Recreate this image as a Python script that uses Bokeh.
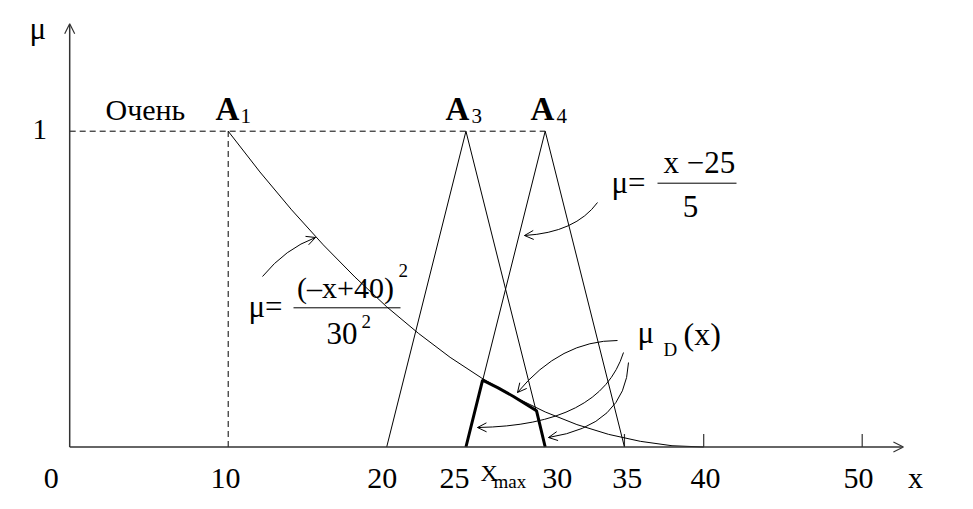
from bokeh.plotting import figure
from bokeh.models import Range1d, Arrow, OpenHead, ColumnDataSource
from bokeh.core.properties import value
from bokeh.embed import file_html
from bokeh.resources import INLINE

# ---------------- data ----------------
a1_x = [10, 12, 14, 16, 18, 20, 22, 24, 26, 28, 30, 32, 34, 36, 38, 40]
a1_mu = [1.0, 0.871, 0.751, 0.640, 0.538, 0.444, 0.360, 0.284, 0.218,
         0.160, 0.111, 0.071, 0.040, 0.018, 0.004, 0.0]
a3_x = [20, 25, 30]
a3_mu = [0, 1, 0]
a4_x = [25, 30, 35]
a4_mu = [0, 1, 0]
muD_x = [25, 26.05, 27, 28, 29.45, 30]
muD_mu = [0, 0.212, 0.188, 0.160, 0.115, 0]
tick_values = [0, 10, 20, 25, 30, 35, 40, 50]
tick_labels = ["0", "10", "20", "25", "30", "35", "40", "50"]
marker_ticks = [35, 40, 50]
level_one = 1.0
x_axis_end = 52.6
y_axis_end = 1.34

# ---------------- layout helpers ----------------
X0, SX, Y0, SY = 69.2, 15.85, 446.5, 315.8   # reference-pixel mapping
OFF = 0                                       # figure origin in picture
BL = 0.3                                      # baseline correction (em)


def P(px_, py_):
    return ((px_ - X0) / SX, (Y0 - py_) / SY)


W, H = 957, 493
p = figure(width=W, height=H,
           x_range=Range1d((OFF - X0) / SX, (OFF + W - X0) / SX),
           y_range=Range1d((Y0 - OFF - H) / SY, (Y0 - OFF) / SY),
           output_backend="svg", toolbar_location=None, min_border=0)
p.axis.visible = False
p.grid.visible = False
p.outline_line_color = None
p.background_fill_color = "white"

FONT = value("Liberation Serif")


def txt(px_, py_, s, size=31, align="left", style="normal"):
    x, y = P(px_, py_ - BL * size)
    p.text(x=[x], y=[y], text=[s], text_font=FONT,
           text_font_size=value(f"{size}px"), text_align=align,
           text_baseline="alphabetic", text_font_style=style,
           text_color="black")


AX = "#333333"
# axes with arrows
p.add_layout(Arrow(end=OpenHead(size=10, line_width=1.2, line_color=AX),
                   x_start=0, y_start=0, x_end=x_axis_end, y_end=0,
                   line_color=AX, line_width=1.5))
p.add_layout(Arrow(end=OpenHead(size=10, line_width=1.2, line_color=AX),
                   x_start=0, y_start=0, x_end=0, y_end=y_axis_end,
                   line_color=AX, line_width=1.5))
p.segment(x0=marker_ticks, y0=[0] * len(marker_ticks), x1=marker_ticks,
          y1=[13 / SY] * len(marker_ticks), line_color=AX, line_width=1.2)

# dashed guides
p.line([0, a4_x[1]], [level_one, level_one], line_color="black",
       line_width=1, line_dash="6 4")
p.line([a1_x[0], a1_x[0]], [0, level_one], line_color="black",
       line_width=1, line_dash="6 4")

# membership functions
p.line(a1_x, a1_mu, line_color="black", line_width=1)
p.line(a3_x, a3_mu, line_color="black", line_width=1)
p.line(a4_x, a4_mu, line_color="black", line_width=1)
p.line(muD_x, muD_mu, line_color="black", line_width=3)

# tick labels
TS = 30
label_shift_px = [-18.5, -2.7, -4.5, -11.5, 12.0, 2.7, 1.8, -3.7]
src = ColumnDataSource(dict(
    x=[v + s / SX for v, s in zip(tick_values, label_shift_px)],
    y=[(Y0 - (486.5 - BL * TS)) / SY] * len(tick_values),
    t=tick_labels))
p.text(x="x", y="y", text="t", source=src, text_font=FONT,
       text_font_size=value(f"{TS}px"), text_align="center",
       text_baseline="alphabetic", text_color="black")
txt(915, 486, "x", 30, align="center")
txt(480, 480, "X", 24)
txt(493, 487, "max", 19)

# axis names and labels
txt(29, 37, "μ", 31)
txt(32, 138, "1", 29)
txt(105, 118, "Очень", 30)
txt(215, 118, "A", 33, style="bold")
txt(240, 122, "1", 21)
txt(445, 118, "A", 33, style="bold")
txt(471, 122, "3", 21)
txt(530, 118, "A", 33, style="bold")
txt(556, 122, "4", 21)

# formula 1
txt(248, 315, "μ=", 31)
txt(345, 296, "(–x+40)", 30, align="center")
txt(398, 276, "2", 19)
p.line([P(293, 0)[0], P(400, 0)[0]], [P(0, 307.3)[1]] * 2,
       line_color="black", line_width=1)
txt(326, 342, "30", 31)
txt(361, 327, "2", 19)

# formula 2
txt(611, 191, "μ=", 31)
txt(663, 171, "x −25", 31)
p.line([P(657, 0)[0], P(736, 0)[0]], [P(0, 182.7)[1]] * 2,
       line_color="black", line_width=1)
txt(690, 215, "5", 31, align="center")

# mu_D(x)
txt(637, 341, "μ", 31)
txt(663, 355, "D", 19)
txt(683, 343, "(x)", 32)

# curved arrows: (start, control, end) in reference pixels
curves = [((262, 276), (285, 248), (315, 237)),
          ((597, 202), (575, 232), (524, 235)),
          ((617, 340), (560, 340), (517, 392)),
          ((623, 352), (600, 425), (477, 427)),
          ((628, 362), (625, 425), (548, 437))]
for s, c, e in curves:
    s, c, e = P(*s), P(*c), P(*e)
    p.quadratic(x0=[s[0]], y0=[s[1]], x1=[e[0]], y1=[e[1]],
                cx=[c[0]], cy=[c[1]], line_color="black", line_width=1)
    eps = 0.03
    p.add_layout(Arrow(end=OpenHead(size=9, line_width=1, line_color="black"),
                       x_start=e[0] - eps * (e[0] - c[0]),
                       y_start=e[1] - eps * (e[1] - c[1]),
                       x_end=e[0], y_end=e[1], line_width=1,
                       line_color="black"))

open("out.html", "w").write(file_html(p, INLINE))
